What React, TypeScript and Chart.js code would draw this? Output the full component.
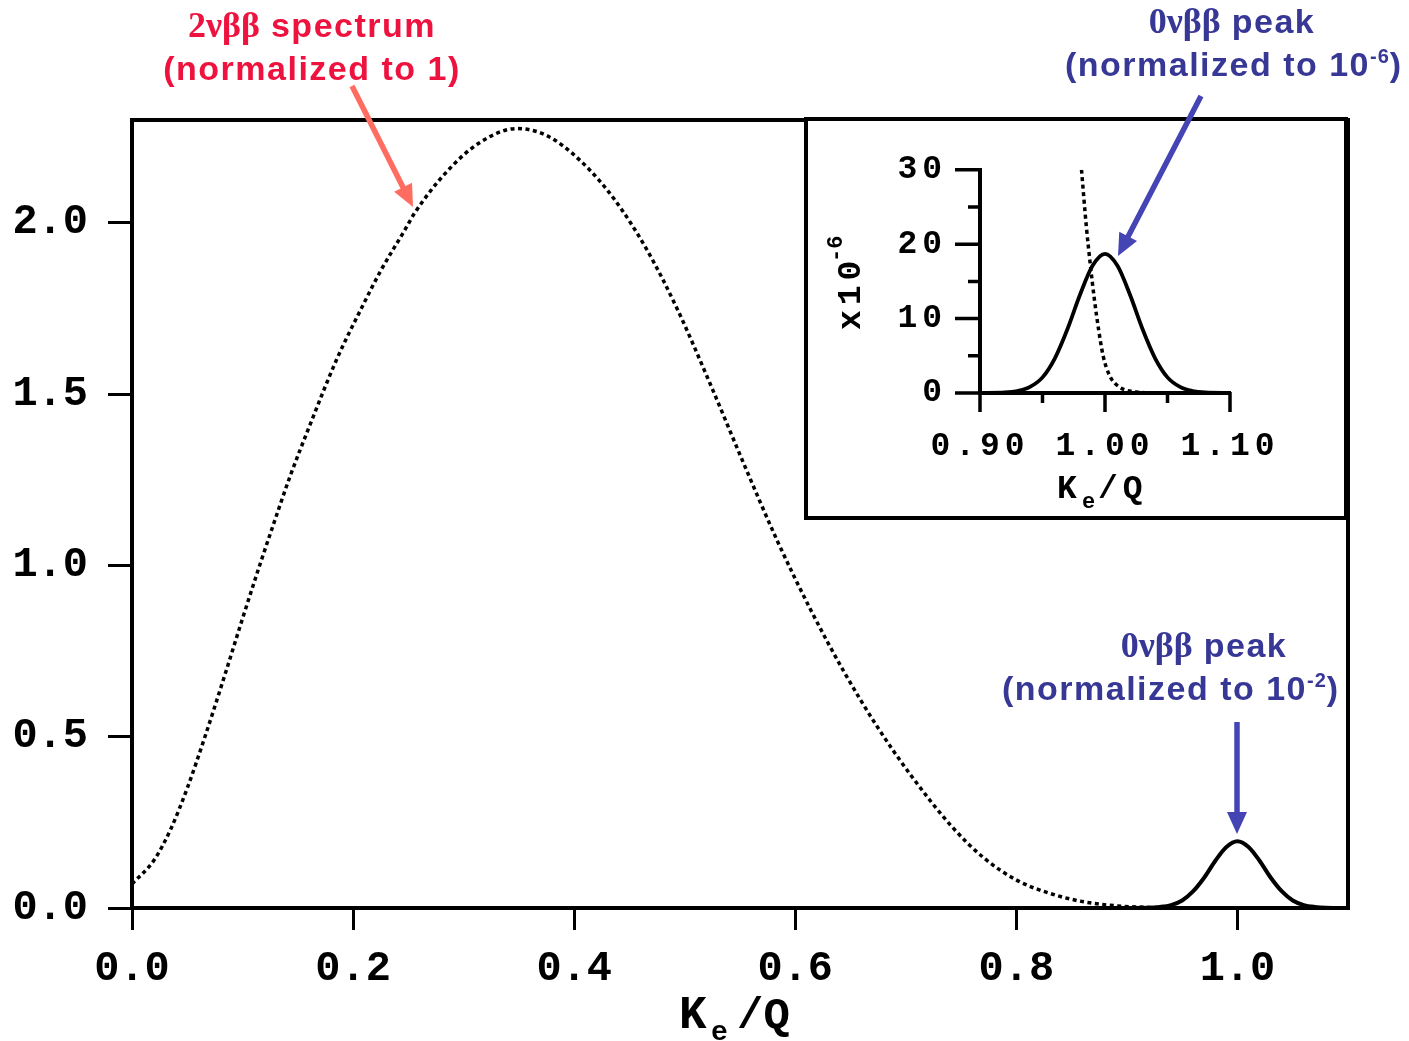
import React, { useEffect, useRef } from 'react';
import { Chart, registerables } from 'chart.js';
Chart.register(...registerables);

// ---------- data ----------
const spectrumX = [0, 0.02, 0.035, 0.05, 0.066, 0.083, 0.1, 0.116, 0.128, 0.143, 0.161, 0.185, 0.209, 0.225, 0.247, 0.256, 0.285, 0.315, 0.348, 0.375, 0.406, 0.436, 0.466, 0.493, 0.523, 0.553, 0.584, 0.614, 0.644, 0.674, 0.704, 0.741, 0.771, 0.801, 0.831, 0.861, 0.892, 0.922, 0.95];
const spectrumY = [0.07, 0.14, 0.23, 0.35, 0.5, 0.67, 0.845, 1.005, 1.12, 1.26, 1.41, 1.6, 1.76, 1.86, 1.98, 2.03, 2.15, 2.235, 2.275, 2.255, 2.18, 2.07, 1.92, 1.75, 1.53, 1.3, 1.07, 0.87, 0.69, 0.53, 0.39, 0.24, 0.145, 0.08, 0.042, 0.018, 0.006, 0.0015, 0];

const peakX = [0.88, 0.92, 0.93, 0.94, 0.95, 0.96, 0.97, 0.98, 0.99, 1.0, 1.01, 1.02, 1.03, 1.04, 1.05, 1.06, 1.07, 1.08, 1.1];
const peakY = [0, 0.0007, 0.003, 0.0086, 0.022, 0.049, 0.089, 0.138, 0.178, 0.195, 0.178, 0.138, 0.089, 0.049, 0.022, 0.0086, 0.003, 0.0007, 0];

const insetPeakX = [0.9, 0.92, 0.93, 0.94, 0.95, 0.96, 0.97, 0.98, 0.99, 1.0, 1.01, 1.02, 1.03, 1.04, 1.05, 1.06, 1.07, 1.08, 1.1];
const insetPeakY = [0, 0.07, 0.27, 0.82, 2.1, 4.7, 8.6, 13.2, 17.1, 18.7, 17.1, 13.2, 8.6, 4.7, 2.1, 0.82, 0.27, 0.07, 0];

const insetTailX = [0.9812, 0.985, 0.9881, 0.9915, 0.995, 0.9985, 1.0035, 1.0115, 1.025, 1.036];
const insetTailY = [30, 22.5, 17.5, 12.6, 8.4, 5.0, 2.4, 0.8, 0.15, 0];

const mainXRange = [0, 1.1];
const mainYRange = [0, 2.3];
const insetXRange = [0.9, 1.1];
const insetYRange = [0, 30];

// ---------- styling ----------
const MONO = '"Liberation Mono", "Courier New", monospace';
const SANS = '"Liberation Sans", Arial, sans-serif';
const SERIF = '"Liberation Serif", "Times New Roman", serif';
const RED_TEXT = 'rgb(238, 18, 62)';
const RED_ARROW = 'rgb(255, 108, 96)';
const BLUE_TEXT = 'rgb(55, 55, 150)';
const BLUE_ARROW = 'rgb(68, 68, 180)';

type Seg = { t: string; f: string; dy?: number; ls?: number };

function segWidth(ctx: CanvasRenderingContext2D, s: Seg) {
  ctx.font = s.f;
  (ctx as any).letterSpacing = (s.ls ?? 0) + 'px';
  return ctx.measureText(s.t).width;
}

function drawRich(ctx: CanvasRenderingContext2D, segs: Seg[], cx: number, y: number, color: string) {
  let w = 0;
  for (const s of segs) w += segWidth(ctx, s);
  let x = cx - w / 2;
  ctx.fillStyle = color;
  ctx.textAlign = 'left';
  ctx.textBaseline = 'alphabetic';
  for (const s of segs) {
    const sw = segWidth(ctx, s);
    ctx.fillText(s.t, x, y + (s.dy ?? 0));
    x += sw;
  }
  (ctx as any).letterSpacing = '0px';
}

function drawArrow(ctx: CanvasRenderingContext2D, x1: number, y1: number, x2: number, y2: number, color: string) {
  const hl = 22, hw = 20, w = 5.5;
  const a = Math.atan2(y2 - y1, x2 - x1);
  const bx = x2 - hl * Math.cos(a);
  const by = y2 - hl * Math.sin(a);
  ctx.save();
  ctx.strokeStyle = color;
  ctx.lineWidth = w;
  ctx.lineCap = 'butt';
  ctx.beginPath();
  ctx.moveTo(x1, y1);
  ctx.lineTo(bx + Math.cos(a) * 2, by + Math.sin(a) * 2);
  ctx.stroke();
  ctx.fillStyle = color;
  ctx.beginPath();
  ctx.moveTo(x2, y2);
  ctx.lineTo(bx + (hw / 2) * Math.sin(a), by - (hw / 2) * Math.cos(a));
  ctx.lineTo(bx - (hw / 2) * Math.sin(a), by + (hw / 2) * Math.cos(a));
  ctx.closePath();
  ctx.fill();
  ctx.restore();
}

const TOP_ARROW = { x1: 1201, y1: 96, x2: 1118, y2: 256 };
const INSET_LEFT = 804;
const INSET_TOP = 117;
const INSET_W = 544;
const INSET_H = 403;

const mainPlugin = {
  id: 'mainDecor',
  beforeDraw(chart: any) {
    const ctx: CanvasRenderingContext2D = chart.ctx;
    ctx.save();
    ctx.fillStyle = '#fff';
    ctx.fillRect(0, 0, chart.width, chart.height);
    ctx.restore();
  },
  afterDraw(chart: any) {
    const ctx: CanvasRenderingContext2D = chart.ctx;
    const { left, right, top, bottom } = chart.chartArea;
    ctx.save();
    // frame top & right
    ctx.strokeStyle = '#000';
    ctx.lineWidth = 4;
    ctx.beginPath();
    ctx.moveTo(left - 2, top);
    ctx.lineTo(right, top);
    ctx.lineTo(right, bottom + 2);
    ctx.stroke();

    // axis title Ke/Q
    ctx.fillStyle = '#000';
    ctx.textAlign = 'left';
    ctx.textBaseline = 'alphabetic';
    ctx.font = `bold 46px ${MONO}`;
    ctx.fillText('K', 679, 1028);
    ctx.font = `bold 28px ${MONO}`;
    ctx.fillText('e', 711, 1040);
    ctx.font = `bold 44px ${MONO}`;
    ctx.fillText('/Q', 737, 1028);

    // annotations
    const big = `bold 34px ${SANS}`;
    const greek = `bold 36px ${SERIF}`;
    const sup = `bold 20px ${SANS}`;
    drawRich(ctx, [
      { t: '2νββ', f: greek },
      { t: ' spectrum', f: big, ls: 1.5 },
    ], 312, 37, RED_TEXT);
    drawRich(ctx, [{ t: '(normalized to 1)', f: big, ls: 1.5 }], 312, 80, RED_TEXT);

    drawRich(ctx, [
      { t: '0νββ', f: greek },
      { t: ' peak', f: big, ls: 1.5 },
    ], 1232, 33, BLUE_TEXT);
    drawRich(ctx, [
      { t: '(normalized to 10', f: big, ls: 1.5 },
      { t: '-6', f: sup, dy: -13, ls: 1 },
      { t: ')', f: big },
    ], 1233, 76, BLUE_TEXT);

    drawRich(ctx, [
      { t: '0νββ', f: greek },
      { t: ' peak', f: big, ls: 1.5 },
    ], 1204, 657, BLUE_TEXT);
    drawRich(ctx, [
      { t: '(normalized to 10', f: big, ls: 1.5 },
      { t: '-2', f: sup, dy: -13, ls: 1 },
      { t: ')', f: big },
    ], 1170, 700, BLUE_TEXT);

    drawArrow(ctx, 352, 86, 413, 207, RED_ARROW);
    drawArrow(ctx, TOP_ARROW.x1, TOP_ARROW.y1, TOP_ARROW.x2, TOP_ARROW.y2, BLUE_ARROW);
    drawArrow(ctx, 1237, 722, 1237, 834, BLUE_ARROW);
    ctx.restore();
  },
};

const insetPlugin = {
  id: 'insetDecor',
  beforeDraw(chart: any) {
    const ctx: CanvasRenderingContext2D = chart.ctx;
    ctx.fillStyle = '#fff';
    ctx.fillRect(0, 0, chart.width, chart.height);
    (ctx as any).letterSpacing = '5px';
  },
  afterDraw(chart: any) {
    const ctx: CanvasRenderingContext2D = chart.ctx;
    (ctx as any).letterSpacing = '0px';
    const { left, bottom } = chart.chartArea;
    const xs = chart.scales.x;
    const ys = chart.scales.y;
    ctx.save();
    ctx.strokeStyle = '#000';
    ctx.lineWidth = 3.5;
    ctx.beginPath();
    ys.ticks.forEach((t: any) => {
      const p = ys.getPixelForValue(t.value);
      const len = Math.round(t.value) % 10 === 0 ? 25 : 12;
      ctx.moveTo(left - len, p);
      ctx.lineTo(left + 1, p);
    });
    xs.ticks.forEach((t: any) => {
      const p = xs.getPixelForValue(t.value);
      const major = Math.abs(t.value * 10 - Math.round(t.value * 10)) < 1e-6;
      const len = major ? 19 : 10;
      ctx.moveTo(p, bottom - 1);
      ctx.lineTo(p, bottom + len);
    });
    ctx.stroke();

    // titles
    ctx.fillStyle = '#000';
    ctx.textAlign = 'left';
    ctx.textBaseline = 'alphabetic';
    (ctx as any).letterSpacing = '5px';
    ctx.font = `bold 33px ${MONO}`;
    ctx.fillText('K', 1057 - INSET_LEFT, 498 - INSET_TOP);
    ctx.font = `bold 22px ${MONO}`;
    (ctx as any).letterSpacing = '0px';
    ctx.fillText('e', 1082 - INSET_LEFT, 508 - INSET_TOP);
    (ctx as any).letterSpacing = '5px';
    ctx.font = `bold 33px ${MONO}`;
    ctx.fillText('/Q', 1098 - INSET_LEFT, 498 - INSET_TOP);

    ctx.save();
    ctx.translate(860 - INSET_LEFT, 330 - INSET_TOP);
    ctx.rotate(-Math.PI / 2);
    ctx.font = `bold 33px ${MONO}`;
    ctx.fillText('x10', 0, 0);
    (ctx as any).letterSpacing = '0px';
    ctx.font = `bold 22px ${MONO}`;
    ctx.fillText('-6', 68, -18);
    ctx.restore();
    (ctx as any).letterSpacing = '0px';

    // box
    ctx.lineWidth = 4;
    ctx.strokeRect(2, 2, INSET_W - 4, INSET_H - 4);
    ctx.restore();

    drawArrow(ctx, TOP_ARROW.x1 - INSET_LEFT, TOP_ARROW.y1 - INSET_TOP, TOP_ARROW.x2 - INSET_LEFT, TOP_ARROW.y2 - INSET_TOP, BLUE_ARROW);
  },
};

function pts(xs: number[], ys: number[]) {
  return xs.map((x, i) => ({ x, y: ys[i] }));
}

export default function App() {
  const mainRef = useRef<HTMLCanvasElement>(null);
  const insetRef = useRef<HTMLCanvasElement>(null);

  useEffect(() => {
    document.body.style.margin = '0';
    const tickFont = { family: MONO, weight: 'bold' as const, size: 42 };
    const main = new Chart(mainRef.current!, {
      type: 'line',
      data: {
        datasets: [
          {
            data: pts(spectrumX, spectrumY),
            borderColor: '#000',
            borderWidth: 3.5,
            borderDash: [4, 3.5],
            pointRadius: 0,
            cubicInterpolationMode: 'monotone',
            fill: false,
          },
          {
            data: pts(peakX, peakY),
            borderColor: '#000',
            borderWidth: 4,
            pointRadius: 0,
            cubicInterpolationMode: 'monotone',
            fill: false,
          },
        ],
      },
      options: {
        animation: false,
        responsive: false,
        maintainAspectRatio: false,
        layout: { padding: { top: 120, right: 61, left: 0, bottom: 0 } },
        plugins: { legend: { display: false }, tooltip: { enabled: false }, title: { display: false } },
        scales: {
          x: {
            type: 'linear',
            min: mainXRange[0],
            max: mainXRange[1],
            ticks: {
              stepSize: 0.2,
              includeBounds: false,
              autoSkip: false,
              maxRotation: 0,
              color: '#000',
              font: tickFont,
              padding: 14,
              callback: (v: any) => Number(v).toFixed(1),
            },
            grid: { drawOnChartArea: false, drawTicks: true, tickLength: 22, tickWidth: 3, tickColor: '#000' },
            border: { display: true, width: 4, color: '#000' },
            afterFit: (s: any) => { s.height = 133; },
          },
          y: {
            type: 'linear',
            min: mainYRange[0],
            max: mainYRange[1],
            ticks: {
              stepSize: 0.5,
              includeBounds: false,
              autoSkip: false,
              color: '#000',
              font: tickFont,
              padding: 20,
              callback: (v: any) => Number(v).toFixed(1),
            },
            grid: { drawOnChartArea: false, drawTicks: true, tickLength: 24, tickWidth: 3, tickColor: '#000' },
            border: { display: true, width: 4, color: '#000' },
            afterFit: (s: any) => { s.width = 132; },
          },
        },
      } as any,
      plugins: [mainPlugin],
    } as any);

    const insetFont = { family: MONO, weight: 'bold' as const, size: 33 };
    const inset = new Chart(insetRef.current!, {
      type: 'line',
      data: {
        datasets: [
          {
            data: pts(insetTailX, insetTailY),
            borderColor: '#000',
            borderWidth: 3.5,
            borderDash: [4, 3.5],
            pointRadius: 0,
            cubicInterpolationMode: 'monotone',
            fill: false,
          },
          {
            data: pts(insetPeakX, insetPeakY),
            borderColor: '#000',
            borderWidth: 3.8,
            pointRadius: 0,
            cubicInterpolationMode: 'monotone',
            fill: false,
          },
        ],
      },
      options: {
        animation: false,
        responsive: false,
        maintainAspectRatio: false,
        layout: { padding: { top: 46, right: 118, left: 0, bottom: 0 } },
        plugins: { legend: { display: false }, tooltip: { enabled: false } },
        scales: {
          x: {
            type: 'linear',
            min: insetXRange[0],
            max: insetXRange[1],
            ticks: {
              stepSize: 0.05,
              autoSkip: false,
              maxRotation: 0,
              color: '#000',
              font: insetFont,
              padding: 34,
              callback: (v: any) => {
                const n = Number(v);
                return Math.abs(n * 10 - Math.round(n * 10)) < 1e-6 ? n.toFixed(2) : '';
              },
            },
            grid: { display: false, drawTicks: false },
            border: { display: true, width: 4, color: '#000' },
            afterFit: (s: any) => { s.height = 127; },
          },
          y: {
            type: 'linear',
            min: insetYRange[0],
            max: insetYRange[1],
            ticks: {
              stepSize: 5,
              autoSkip: false,
              color: '#000',
              font: insetFont,
              padding: 33,
              callback: (v: any) => (Math.round(Number(v)) % 10 === 0 ? String(Math.round(Number(v))) : ''),
            },
            grid: { display: false, drawTicks: false },
            border: { display: true, width: 4, color: '#000' },
            afterFit: (s: any) => { s.width = 176; },
          },
        },
      } as any,
      plugins: [insetPlugin],
    } as any);

    return () => {
      main.destroy();
      inset.destroy();
    };
  }, []);

  return (
    <div style={{ position: 'relative', width: 1409, height: 1041, background: '#fff', overflow: 'hidden' }}>
      <canvas
        ref={mainRef}
        width={1409}
        height={1041}
        style={{ position: 'absolute', left: 0, top: 0, width: 1409, height: 1041 }}
      />
      <canvas
        ref={insetRef}
        width={INSET_W}
        height={INSET_H}
        style={{ position: 'absolute', left: INSET_LEFT, top: INSET_TOP, width: INSET_W, height: INSET_H }}
      />
    </div>
  );
}
